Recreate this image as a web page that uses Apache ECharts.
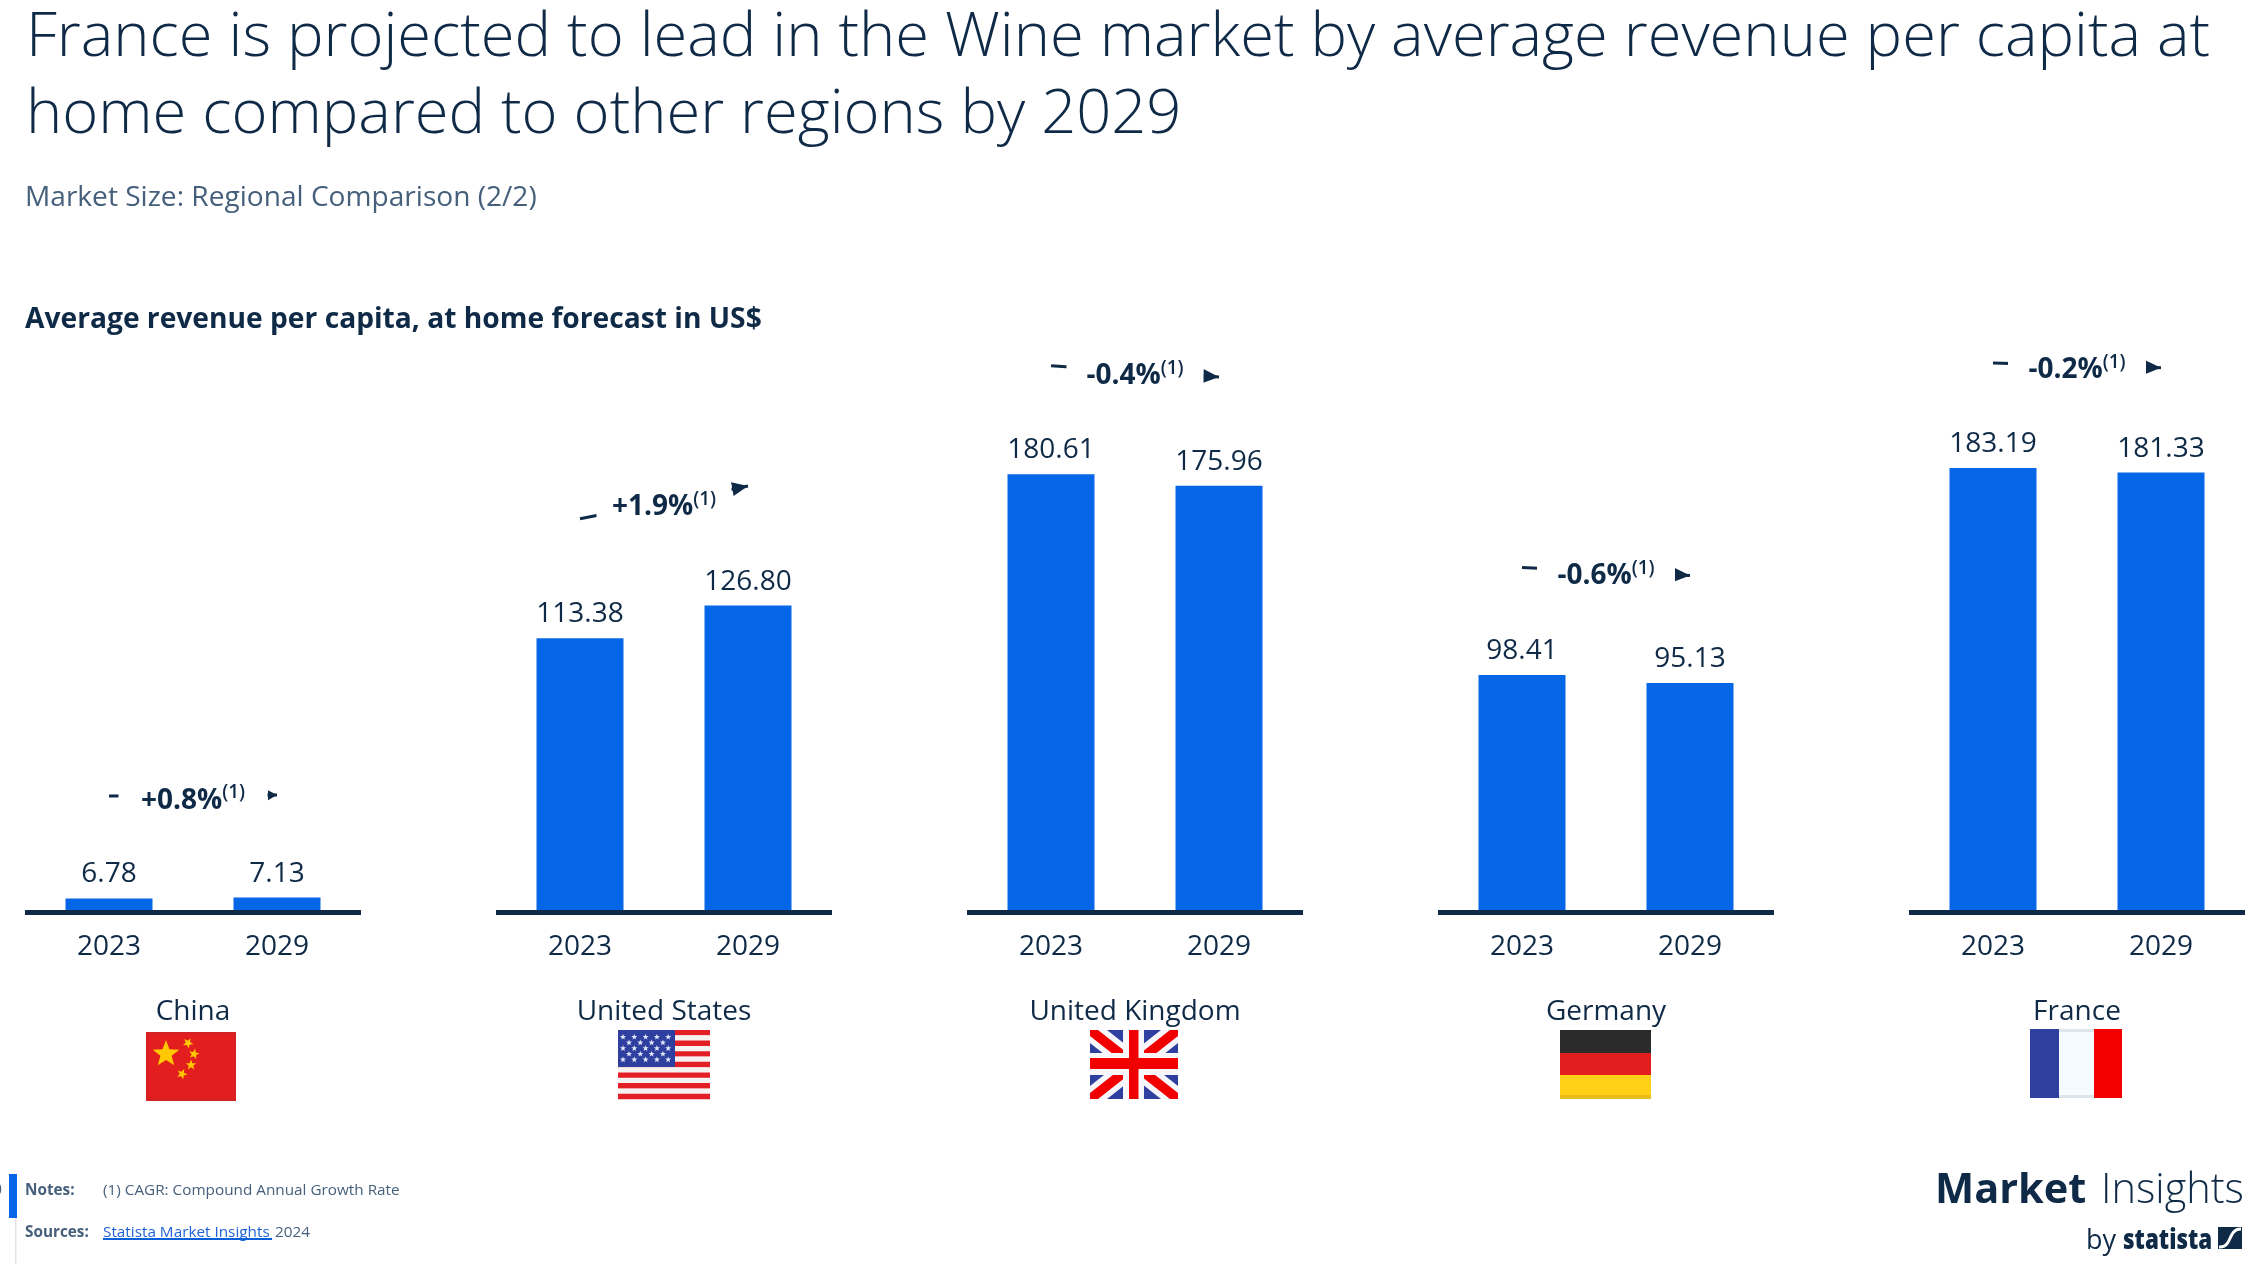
<!DOCTYPE html>
<html><head><meta charset="utf-8">
<style>html,body{margin:0;padding:0;background:#fff}#c{width:2264px;height:1264px}</style>
<script src="https://cdn.jsdelivr.net/npm/echarts@6/dist/echarts.min.js"></script>
</head><body><div id="c"></div>
<script>
const countries = ['China','United States','United Kingdom','Germany','France'];
const years = ['2023','2029'];
const values2023 = [6.78,113.38,180.61,98.41,183.19];
const values2029 = [7.13,126.80,175.96,95.13,181.33];
const cagrLabels = ['+0.8%','+1.9%','-0.4%','-0.6%','-0.2%'];
const titleText = 'France is projected to lead in the Wine market by average revenue per capita at\nhome compared to other regions by 2029';
const subtitleText = 'Market Size: Regional Comparison (2/2)';
const headingText = 'Average revenue per capita, at home forecast in US$';

const NAVY='#0f2a47', BLUE='#0666e8', FONT='"Open Sans"';
const GRID_LEFT=[25,496,967,1438,1909], GRID_W=336, ZERO_Y=915, PX_PER_UNIT=2.44, AXIS_MAX=260;
const ARROW_LIFT=[42,49,44.5,44,43], ARROW_SIZE=[[10,9],[14,16],[14,16],[14,16],[14,16]], GAP_W=[149,135,137,138,138];

const grids=[],xAxes=[],yAxes=[],series=[];
countries.forEach((name,i)=>{
  grids.push({left:GRID_LEFT[i],width:GRID_W,top:ZERO_Y-AXIS_MAX*PX_PER_UNIT,height:AXIS_MAX*PX_PER_UNIT});
  xAxes.push({type:'category',gridIndex:i,data:years,offset:-2.5,z:5,
    axisLine:{show:true,onZero:false,lineStyle:{color:NAVY,width:5,cap:'butt'}},axisTick:{show:false},
    axisLabel:{color:NAVY,fontFamily:FONT,fontSize:28,margin:21,interval:0},
    name,nameLocation:'middle',nameGap:86,nameTextStyle:{color:NAVY,fontFamily:FONT,fontSize:28}});
  yAxes.push({type:'value',gridIndex:i,min:0,max:AXIS_MAX,show:false,splitLine:{show:false}});
  series.push({type:'bar',xAxisIndex:i,yAxisIndex:i,barWidth:87,z:2,silent:true,
    data:[values2023[i],values2029[i]],
    itemStyle:{color:BLUE},
    label:{show:true,position:'top',distance:10,color:NAVY,fontFamily:FONT,fontSize:28,
      formatter:p=>p.value.toFixed(2)},
    markLine:{silent:true,symbol:['none','triangle'],symbolSize:ARROW_SIZE[i],
      symbolOffset:[[0,0],[0,ARROW_SIZE[i][1]/2]],z:3,animation:false,
      lineStyle:{color:NAVY,width:3,type:'solid'},
      label:{show:true,position:'middle',rotate:0,distance:-5,formatter:'{v|'+cagrLabels[i]+'}{s|(1)}',
        backgroundColor:'#fff',width:GAP_W[i],align:'center',verticalAlign:'middle',
        rich:{v:{fontFamily:FONT,fontWeight:700,fontSize:28,color:NAVY,lineHeight:46},
              s:{fontFamily:FONT,fontWeight:600,fontSize:19,color:NAVY,verticalAlign:'top',lineHeight:24,padding:[6,0,0,0]}}},
      data:[[{coord:['2023',values2023[i]+ARROW_LIFT[i]]},{coord:['2029',values2029[i]+ARROW_LIFT[i]]}]]}});
});

/* flags and small page furniture */
const rect=(x,y,w,h,fill)=>({type:'rect',silent:true,shape:{x,y,width:w,height:h},style:{fill}});
const poly=(points,fill)=>({type:'polygon',silent:true,shape:{points},style:{fill}});
function star(cx,cy,r,fill,rot=0){const p=[];for(let k=0;k<10;k++){const a=-Math.PI/2+rot+k*Math.PI/5,q=k%2?r*0.42:r;p.push([cx+q*Math.cos(a),cy+q*Math.sin(a)]);}return poly(p,fill);}
const txt=(x,base,text,weight,size,fill,extra={})=>Object.assign({type:'text',silent:true,x,y:base-0.78*size,style:{text,font:weight+' '+size+'px '+FONT,fill}},extra);
const flags=[];
// China
flags.push(rect(146,1032,90,69,'#d22226'),rect(148,1034,86,65,'#e31e1e'),
  star(166,1054,14,'#ffc800'),star(188,1043,5.5,'#ffc800',.5),star(194,1054,5.5,'#ffc800',.2),star(191,1065,5.5,'#ffc800'),star(182,1074,5.5,'#ffc800',.4));
// United States
for(let s=0;s<13;s++)flags.push(rect(618,1030+s*69/13,92,69/13+.3,s%2?'#f6f2f2':'#e31e25'));
flags.push(rect(618,1030,57,37,'#2e3f9f'));
[[1037,5],[1042.7,4],[1048.3,5],[1054,4],[1059.6,5]].forEach(([y,n])=>{for(let k=0;k<n;k++)flags.push(star((n==5?623:629)+k*11.3,y,3.2,'#dfe6f7'));});
// United Kingdom
(function(){const x0=1090,x1=1178,y0=1030,y1=1099;
 flags.push(rect(x0,y0,x1-x0,y1-y0,'#2e3f9f'));
 const d=(dx,dy,c)=>{flags.push(poly([[x0,y0],[x0+dx,y0],[x1,y1-dy],[x1,y1],[x1-dx,y1],[x0,y0+dy]],c),
   poly([[x1,y0],[x1-dx,y0],[x0,y1-dy],[x0,y1],[x0+dx,y1],[x1,y0+dy]],c));};
 d(17,13,'#f7f7fb');d(8,6,'#f20000');
 flags.push(rect(1123,y0,21,69,'#f7f7fb'),rect(x0,1053,88,22,'#f7f7fb'),rect(1129,y0,9.5,69,'#f20000'),rect(x0,1058,88,11,'#f20000'));})();
// Germany
flags.push(rect(1560,1030,91,23,'#2b2b2b'),rect(1560,1053,91,22,'#e31e1e'),rect(1560,1075,91,24,'#ffd016'),rect(1560,1095,91,4,'#e8bc1a'));
// France
flags.push(rect(2030,1029,29,69,'#2e3f9f'),rect(2059,1029,35,69,'#f5fbff'),rect(2094,1029,28,69,'#f50000'),rect(2059,1029,35,3,'#dfe5ec'),rect(2059,1095,35,3,'#dfe5ec'));

const furniture=[
  rect(9,1174,8,44,BLUE),rect(15,1218,1.5,46,'#e3e3e3'),
  txt(-7,1195,'0',700,15.3,'#46607c'),
  txt(25,1195,'Notes:',700,15.3,'#46607c'),
  txt(103,1195,'(1) CAGR: Compound Annual Growth Rate',400,15.3,'#46607c'),
  txt(25,1237,'Sources:',700,15.3,'#46607c'),
  txt(103,1237,'Statista Market Insights',400,15.3,'#1f62d8'),
  rect(103,1238,169,2,'#0b5fd8'),
  txt(275,1237,'2024',400,15.3,'#46607c'),
  txt(1935,1203,'Market',700,41.5,NAVY),
  txt(2101,1203,'Insights',300,41.5,NAVY),
  txt(2086,1249,'by',400,27,NAVY),
  txt(2123,1249,'statista',800,28,NAVY,{scaleX:0.8}),
  rect(2218,1227,24,22,NAVY),
  {type:'bezierCurve',silent:true,shape:{x1:2219,y1:1247,x2:2241,y2:1229,cpx1:2233,cpy1:1248,cpx2:2227,cpy2:1229},style:{stroke:'#fff',lineWidth:3,fill:null}}
];

const chart=echarts.init(document.getElementById('c'),null,{renderer:'canvas'});
chart.setOption({
  animation:false,backgroundColor:'#fff',
  title:[
    {text:titleText,left:26,top:0,padding:0,textStyle:{fontFamily:FONT,fontWeight:300,fontSize:61.45,lineHeight:77,color:NAVY}},
    {text:subtitleText,left:25,top:184,padding:0,textStyle:{fontFamily:FONT,fontWeight:400,fontSize:28.1,color:'#46607c'}},
    {text:headingText,left:25,top:306,padding:0,textStyle:{fontFamily:FONT,fontWeight:700,fontSize:28.2,color:NAVY}}
  ],
  grid:grids,xAxis:xAxes,yAxis:yAxes,series,
  graphic:{elements:flags.concat(furniture)}
});
</script></body></html>
